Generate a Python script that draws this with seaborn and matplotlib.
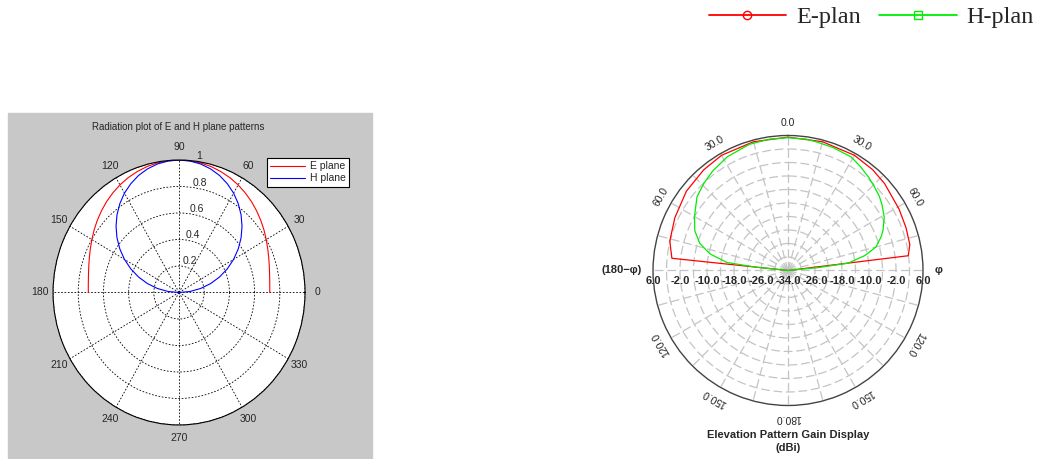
import numpy as np
import matplotlib
matplotlib.use("Agg")
import matplotlib.pyplot as plt
import seaborn as sns
from matplotlib.lines import Line2D
from matplotlib.patches import Rectangle
from matplotlib.font_manager import FontProperties

# ---- left panel: normalised patterns, angle in degrees ----
left_angles = list(range(0, 181, 5))
e_plane = [0.720, 0.723, 0.730, 0.742, 0.758, 0.777, 0.799, 0.823, 0.847, 0.871,
           0.895, 0.917, 0.938, 0.956, 0.971, 0.984, 0.993, 0.998, 1.000,
           0.998, 0.993, 0.984, 0.971, 0.956, 0.938, 0.917, 0.895, 0.871,
           0.847, 0.823, 0.799, 0.777, 0.758, 0.742, 0.730, 0.723, 0.720]
h_plane = [0.000, 0.087, 0.174, 0.259, 0.342, 0.423, 0.500, 0.574, 0.643, 0.707,
           0.766, 0.819, 0.866, 0.906, 0.940, 0.966, 0.985, 0.996, 1.000,
           0.996, 0.985, 0.966, 0.940, 0.906, 0.866, 0.819, 0.766, 0.707,
           0.643, 0.574, 0.500, 0.423, 0.342, 0.259, 0.174, 0.087, 0.000]
left_rings = [0.2, 0.4, 0.6, 0.8, 1.0]
left_ring_labels = ["0.2", "0.4", "0.6", "0.8", "1"]
left_theta_ticks = list(range(0, 360, 30))

# ---- right panel: gain in dBi, angle from zenith (clockwise, degrees) ----
red_angles = [-85.5, -84, -76, -65, -52, -40, -30, -15, 0, 15, 30, 40, 48, 61, 70, 78, 83, 85]
red_gain = [-34, 0.6, 2.1, 3.0, 4.2, 4.9, 5.4, 5.5, 5.5, 5.5, 5.4, 5.0, 4.5, 3.6, 3.2, 2.9, 1.9, -34]
green_angles = [-86, -84, -82.5, -78, -73, -67, -60, -51, -44, -37, -28, -17, -8,
                0, 8, 13, 20, 29, 35, 41, 45, 51, 55, 61, 67, 70, 75, 79, 83, 84.5, 86]
green_gain = [-34, -24, -15.7, -10.4, -6.7, -4.0, -2.0, 0.7, 1.9, 3.0, 4.2, 5.1, 5.3,
              5.35, 5.3, 5.0, 4.8, 4.5, 3.5, 2.5, 1.8, 0.85, 0.0, -1.4, -3.4, -4.6, -7.0, -10.8, -16.0, -25, -34]
right_ring_values = [6, -2, -10, -18, -26]
right_ring_labels = ["6.0", "-2.0", "-10.0", "-18.0", "-26.0"]
right_theta_ticks = [0, 30, 60, 120, 150, 180, -30, -60, -120, -150]
right_theta_labels = ["0.0", "30.0", "60.0", "120.0", "150.0", "180.0", "30.0", "60.0", "120.0", "150.0"]

sns.set_style("white")
plt.rcParams['font.family'] = ['Liberation Sans', 'DejaVu Sans']

fig = plt.figure(figsize=(10.4, 4.59), dpi=100)

# grey MATLAB figure background behind the left plot
fig.add_artist(Rectangle((8 / 1040, 1 / 459), 364 / 1040, 345 / 459,
                         transform=fig.transFigure, color='#c8c8c8', zorder=0))

# ---------------- left polar plot ----------------
axl = fig.add_axes([0.051, 0.0741, 0.2423, 0.5773], projection='polar')
axl.set_aspect('auto')
axl.set_facecolor('white')
th_l = np.radians(left_angles)
sns.lineplot(x=th_l, y=e_plane, ax=axl, sort=False, color='#ff0000', lw=0.8, label='E plane')
sns.lineplot(x=th_l, y=h_plane, ax=axl, sort=False, color='#0000ff', lw=0.8, label='H plane')
axl.set_ylim(0, 1)
axl.set_rgrids(left_rings, labels=[''] * len(left_rings))
axl.set_thetagrids(left_theta_ticks, labels=[''] * len(left_theta_ticks))
axl.grid(True, color='black', linestyle=(0, (2, 2)), linewidth=0.6)
axl.spines['polar'].set_color('black')
axl.spines['polar'].set_linewidth(0.8)
axl.set_xlabel('')
axl.set_ylabel('')
for a in left_theta_ticks:
    axl.text(np.radians(a), 1.1, str(a), ha='center', va='center', fontsize=7.5)
for r, lab in zip(left_rings, left_ring_labels):
    axl.text(np.radians(82), r, lab, ha='left', va='bottom', fontsize=7.5)
leg = axl.legend(loc='upper right', bbox_to_anchor=(354 / 1040, 1 - 153 / 459),
                 bbox_transform=fig.transFigure, fontsize=7.5, fancybox=False,
                 edgecolor='black', framealpha=1, handlelength=3.3, borderpad=0.3,
                 labelspacing=0.2, handletextpad=0.5)
leg.get_frame().set_linewidth(0.8)
fig.text(178 / 1040, 1 - 127 / 459, 'Radiation plot of E and H plane patterns',
         ha='center', va='center', fontsize=7)

# ---------------- right polar plot ----------------
axr = fig.add_axes([0.6279, 0.1166, 0.2596, 0.5882], projection='polar')
axr.set_theta_zero_location('N')
axr.set_theta_direction(-1)
sns.lineplot(x=np.radians(red_angles), y=red_gain, ax=axr, sort=False, color='#ff0000', lw=0.9)
sns.lineplot(x=np.radians(green_angles), y=green_gain, ax=axr, sort=False, color='#00ee00', lw=0.9)
axr.set_ylim(-34, 6)
axr.set_rgrids(np.arange(-30, 6, 4), labels=[''] * 9)
axr.set_thetagrids(np.arange(0, 360, 15), labels=[''] * 24)
axr.grid(True, color='#c4c4c4', linestyle=(0, (7, 3)), linewidth=0.9)
axr.spines['polar'].set_color('#444444')
axr.spines['polar'].set_linewidth(1.0)
axr.set_xlabel('')
axr.set_ylabel('')
for a, lab in zip(right_theta_ticks, right_theta_labels):
    axr.text(np.radians(a), 9.6, lab, ha='center', va='center', fontsize=7.5,
             rotation=-a, rotation_mode='anchor')
for side in (90, -90):
    for r, lab in zip(right_ring_values, right_ring_labels):
        axr.annotate(lab, xy=(np.radians(side), r), xytext=(0, -7.5),
                     textcoords='offset points', ha='center', va='center',
                     fontsize=8, fontweight='bold')
axr.annotate('-34.0', xy=(0, -34), xytext=(0, -7.5), textcoords='offset points',
             ha='center', va='center', fontsize=8, fontweight='bold')
axr.text(np.radians(90), 10.5, 'φ', ha='center', va='center', fontsize=8, fontweight='bold')
axr.text(np.radians(-90), 9.4, '(180\u2212φ)', ha='right', va='center', fontsize=8, fontweight='bold')
fig.text(788 / 1040, 1 - 435 / 459, 'Elevation Pattern Gain Display', ha='center',
         va='center', fontsize=8, fontweight='bold')
fig.text(788 / 1040, 1 - 448 / 459, '(dBi)', ha='center', va='center', fontsize=8,
         fontweight='bold')

# ---------------- top legend ----------------
handles = [Line2D([], [], color='#ff0000', lw=1.3, marker='o', mfc='none', mec='#ff0000', ms=6),
           Line2D([], [], color='#00ee00', lw=1.3, marker='s', mfc='none', mec='#00ee00', ms=5.5)]
fig.legend(handles, ['E-plan', 'H-plan'], loc='upper right', bbox_to_anchor=(1.0, 1.0),
           ncol=2, frameon=False, prop=FontProperties(family='Liberation Serif', size=17.5),
           handlelength=3.2, handletextpad=0.4, columnspacing=0.75, borderpad=0.05,
           borderaxespad=0.2)

fig.savefig('out.png', dpi=100, facecolor='white')
